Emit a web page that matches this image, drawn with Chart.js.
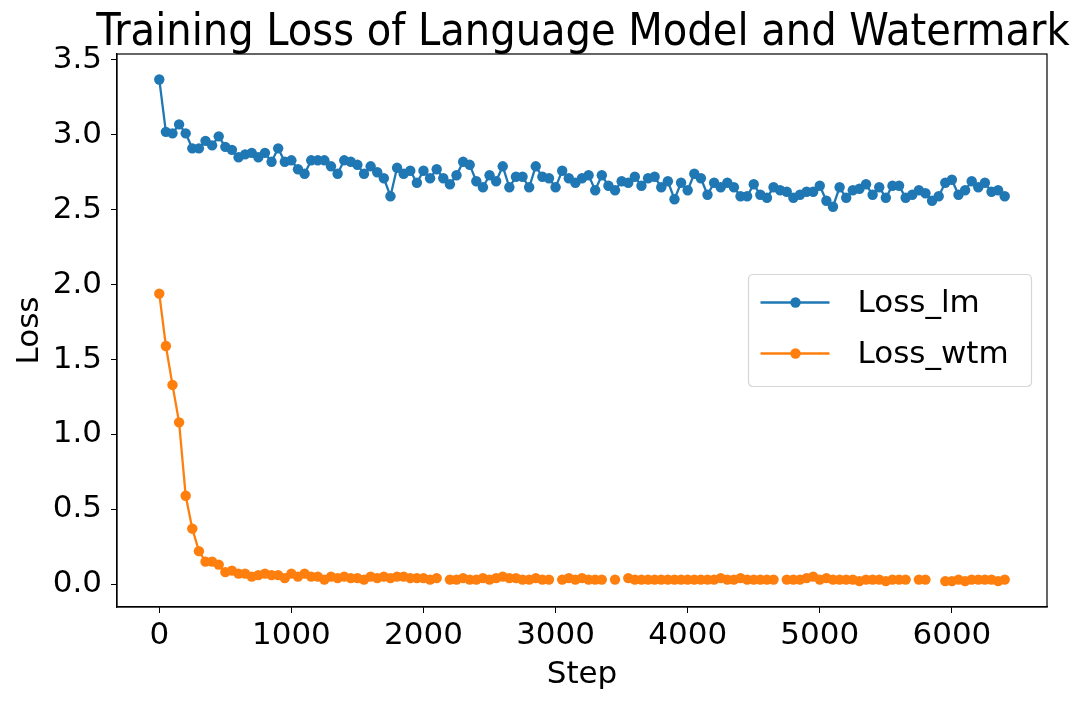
<!DOCTYPE html>
<html>
<head>
<meta charset="utf-8">
<script src="https://cdn.jsdelivr.net/npm/chart.js@4.4.1/dist/chart.umd.min.js"></script>
<style>
  html, body { margin: 0; padding: 0; background: #ffffff; }
  #wrap { width: 1080px; height: 704px; }
  canvas { display: block; }
</style>
</head>
<body>
<div id="wrap"><canvas id="c" width="1080" height="704"></canvas></div>
<script>
const chartTitle = 'Training Loss of Language Model and Watermark';
const xLabel = 'Step';
const yLabel = 'Loss';
const seriesNames = ['Loss_lm', 'Loss_wtm'];

const steps = [
  0, 50, 100, 150, 200, 250, 300, 350, 400, 450, 500, 550, 600, 650, 700, 750, 800, 850, 900, 950,
  1000, 1050, 1100, 1150, 1200, 1250, 1300, 1350, 1400, 1450, 1500, 1550, 1600, 1650, 1700, 1750, 1800, 1850, 1900, 1950,
  2000, 2050, 2100, 2150, 2200, 2250, 2300, 2350, 2400, 2450, 2500, 2550, 2600, 2650, 2700, 2750, 2800, 2850, 2900, 2950,
  3000, 3050, 3100, 3150, 3200, 3250, 3300, 3350, 3400, 3450, 3500, 3550, 3600, 3650, 3700, 3750, 3800, 3850, 3900, 3950,
  4000, 4050, 4100, 4150, 4200, 4250, 4300, 4350, 4400, 4450, 4500, 4550, 4600, 4650, 4700, 4750, 4800, 4850, 4900, 4950,
  5000, 5050, 5100, 5150, 5200, 5250, 5300, 5350, 5400, 5450, 5500, 5550, 5600, 5650, 5700, 5750, 5800, 5850, 5900, 5950,
  6000, 6050, 6100, 6150, 6200, 6250, 6300, 6350, 6400
];

const lossLm = [
  3.37, 3.02, 3.01, 3.07, 3.01, 2.91, 2.91, 2.96, 2.93, 2.99, 2.92, 2.90, 2.85, 2.87, 2.88, 2.85, 2.88, 2.82, 2.91, 2.82,
  2.83, 2.77, 2.74, 2.83, 2.83, 2.83, 2.79, 2.74, 2.83, 2.82, 2.80, 2.74, 2.79, 2.75, 2.71, 2.59, 2.78, 2.74, 2.76, 2.68,
  2.76, 2.71, 2.77, 2.71, 2.67, 2.73, 2.82, 2.80, 2.69, 2.65, 2.73, 2.69, 2.79, 2.65, 2.72, 2.72, 2.65, 2.79, 2.72, 2.71,
  2.65, 2.76, 2.71, 2.68, 2.71, 2.73, 2.63, 2.73, 2.66, 2.63, 2.69, 2.68, 2.72, 2.66, 2.71, 2.72, 2.65, 2.69, 2.57, 2.68,
  2.63, 2.74, 2.71, 2.60, 2.68, 2.65, 2.68, 2.65, 2.59, 2.59, 2.67, 2.60, 2.58, 2.65, 2.63, 2.62, 2.58, 2.60, 2.62, 2.62,
  2.66, 2.56, 2.52, 2.65, 2.58, 2.63, 2.64, 2.67, 2.60, 2.65, 2.58, 2.66, 2.66, 2.58, 2.60, 2.63, 2.61, 2.56, 2.59, 2.68,
  2.70, 2.60, 2.63, 2.69, 2.65, 2.68, 2.62, 2.63, 2.59
];

const lossWtm = [
  1.94, 1.59, 1.33, 1.08, 0.59, 0.37, 0.22, 0.15, 0.15, 0.13, 0.08, 0.09, 0.07, 0.07, 0.05, 0.06, 0.07, 0.06, 0.06, 0.04,
  0.07, 0.05, 0.07, 0.05, 0.05, 0.03, 0.05, 0.04, 0.05, 0.04, 0.04, 0.03, 0.05, 0.04, 0.05, 0.04, 0.05, 0.05, 0.04, 0.04,
  0.04, 0.03, 0.04, null, 0.03, 0.03, 0.04, 0.03, 0.03, 0.04, 0.03, 0.04, 0.05, 0.04, 0.04, 0.03, 0.03, 0.04, 0.03, 0.03,
  null, 0.03, 0.04, 0.03, 0.04, 0.03, 0.03, 0.03, null, 0.03, null, 0.04, 0.03, 0.03, 0.03, 0.03, 0.03, 0.03, 0.03, 0.03,
  0.03, 0.03, 0.03, 0.03, 0.03, 0.04, 0.03, 0.03, 0.04, 0.03, 0.03, 0.03, 0.03, 0.03, null, 0.03, 0.03, 0.03, 0.04, 0.05,
  0.03, 0.04, 0.03, 0.03, 0.03, 0.03, 0.02, 0.03, 0.03, 0.03, 0.02, 0.03, 0.03, 0.03, null, 0.03, 0.03, null, null, 0.02,
  0.02, 0.03, 0.02, 0.03, 0.03, 0.03, 0.03, 0.02, 0.03
];

const xTicks = [0, 1000, 2000, 3000, 4000, 5000, 6000];
const yTicks = [0.0, 0.5, 1.0, 1.5, 2.0, 2.5, 3.0, 3.5];

const BLUE = '#1f77b4';
const ORANGE = '#ff7f0e';
const FONT = "'DejaVu Sans', 'Noto Sans', sans-serif";
const FS = 31;
const MARKER_R = 5.2;
const LINE_W = 2.3;

function toPoints(xs, ys) {
  return xs.map((x, i) => ({ x: x, y: ys[i] }));
}

const framePlugin = {
  id: 'frame',
  afterDatasetsDraw(chart) {
    const { ctx, chartArea: a } = chart;
    ctx.save();
    ctx.strokeStyle = '#000000';
    ctx.lineWidth = 1.2;
    ctx.strokeRect(a.left, a.top, a.right - a.left, a.bottom - a.top);
    ctx.restore();
  }
};

const titlePlugin = {
  id: 'customTitle',
  afterDraw(chart) {
    const { ctx, chartArea: a } = chart;
    ctx.save();
    ctx.font = "44.5px 'DejaVu Sans Condensed', 'DejaVu Sans', sans-serif";
    ctx.fillStyle = '#000000';
    ctx.textAlign = 'center';
    ctx.textBaseline = 'alphabetic';
    ctx.fillText(chartTitle, (a.left + a.right) / 2 + 1, a.top - 9);
    ctx.restore();
  }
};

const legendPlugin = {
  id: 'customLegend',
  afterDraw(chart) {
    const { ctx, chartArea: a } = chart;
    const w = 283, h = 112;
    const right = a.right - 15.5;
    const left = right - w;
    const top = (a.top + a.bottom) / 2 - h / 2;
    ctx.save();
    const r = 5;
    ctx.beginPath();
    ctx.moveTo(left + r, top);
    ctx.lineTo(left + w - r, top);
    ctx.quadraticCurveTo(left + w, top, left + w, top + r);
    ctx.lineTo(left + w, top + h - r);
    ctx.quadraticCurveTo(left + w, top + h, left + w - r, top + h);
    ctx.lineTo(left + r, top + h);
    ctx.quadraticCurveTo(left, top + h, left, top + h - r);
    ctx.lineTo(left, top + r);
    ctx.quadraticCurveTo(left, top, left + r, top);
    ctx.closePath();
    ctx.fillStyle = 'rgba(255,255,255,0.8)';
    ctx.fill();
    ctx.strokeStyle = '#d6d6d6';
    ctx.lineWidth = 1.2;
    ctx.stroke();

    const colors = [BLUE, ORANGE];
    const rowY = [top + 28, top + 79];
    ctx.font = FS + 'px ' + FONT;
    ctx.textBaseline = 'middle';
    ctx.textAlign = 'left';
    seriesNames.forEach((name, i) => {
      const y = rowY[i];
      ctx.strokeStyle = colors[i];
      ctx.lineWidth = LINE_W;
      ctx.beginPath();
      ctx.moveTo(left + 12, y);
      ctx.lineTo(left + 81, y);
      ctx.stroke();
      ctx.fillStyle = colors[i];
      ctx.beginPath();
      ctx.arc(left + 47, y, MARKER_R, 0, Math.PI * 2);
      ctx.fill();
      ctx.fillStyle = '#000000';
      ctx.fillText(name, left + 109, y + 1);
    });
    ctx.restore();
  }
};

function makeDataset(label, ys, color) {
  return {
    label: label,
    data: toPoints(steps, ys),
    borderColor: color,
    backgroundColor: color,
    pointBackgroundColor: color,
    pointBorderColor: color,
    pointBorderWidth: 0,
    pointRadius: MARKER_R,
    borderWidth: LINE_W,
    tension: 0,
    spanGaps: false
  };
}

const ctx = document.getElementById('c').getContext('2d');
new Chart(ctx, {
  type: 'line',
  data: {
    datasets: [
      makeDataset(seriesNames[0], lossLm, BLUE),
      makeDataset(seriesNames[1], lossWtm, ORANGE)
    ]
  },
  options: {
    responsive: false,
    devicePixelRatio: 1,
    animation: false,
    events: [],
    layout: { padding: { top: 54, right: 33, left: 0, bottom: 0 } },
    plugins: {
      legend: { display: false },
      title: { display: false },
      tooltip: { enabled: false }
    },
    scales: {
      x: {
        type: 'linear',
        min: -320,
        max: 6720,
        afterBuildTicks(scale) { scale.ticks = xTicks.map(v => ({ value: v })); },
        afterFit(scale) { scale.height = 97; },
        ticks: {
          font: { family: FONT, size: FS },
          color: '#000000',
          padding: 4,
          maxRotation: 0,
          autoSkip: false,
          callback: (v) => String(v)
        },
        grid: { drawOnChartArea: false, drawTicks: true, tickLength: 6, color: '#000000', tickWidth: 1 },
        border: { display: true, color: '#000000', width: 1.2 },
        title: { display: true, text: xLabel, font: { family: FONT, size: FS }, color: '#000000', padding: { top: 0, bottom: 10 } }
      },
      y: {
        type: 'linear',
        min: -0.153,
        max: 3.54,
        afterBuildTicks(scale) { scale.ticks = yTicks.map(v => ({ value: v })); },
        afterFit(scale) { scale.width = 117; },
        ticks: {
          font: { family: FONT, size: FS },
          color: '#000000',
          padding: 9,
          autoSkip: false,
          callback: (v) => Number(v).toFixed(1)
        },
        grid: { drawOnChartArea: false, drawTicks: true, tickLength: 6, color: '#000000', tickWidth: 1 },
        border: { display: true, color: '#000000', width: 1.2 },
        title: { display: true, text: yLabel, font: { family: FONT, size: FS }, color: '#000000', padding: { top: 11, bottom: 0 } }
      }
    }
  },
  plugins: [framePlugin, titlePlugin, legendPlugin]
});
</script>
</body>
</html>
